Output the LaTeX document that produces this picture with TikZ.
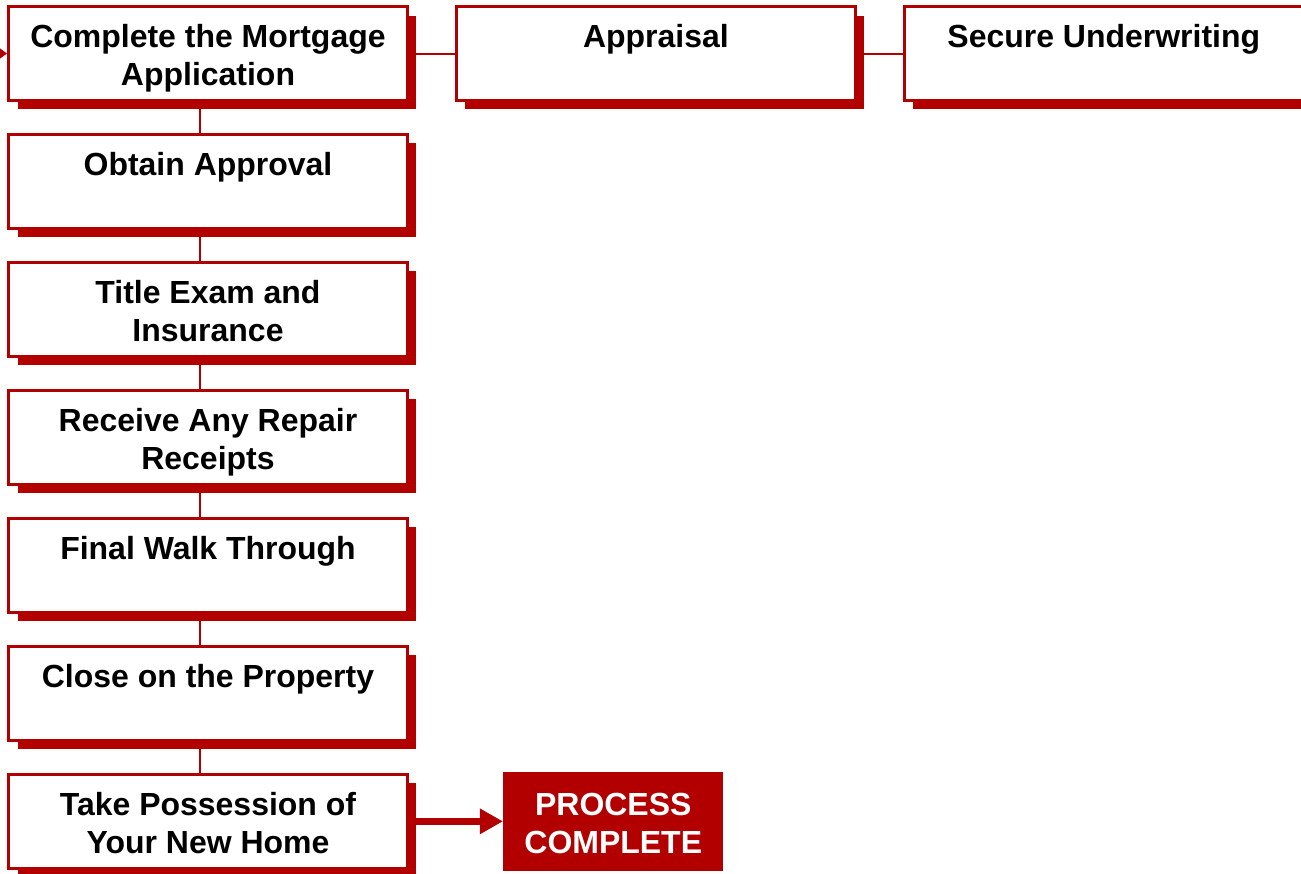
\documentclass[tikz,border=0pt]{standalone}
\usepackage{fontspec}
\setmainfont{Liberation Sans}
\usetikzlibrary{arrows.meta, positioning, shadows}
\definecolor{stepRed}{RGB}{178,0,0}
\tikzset{
    font=\bfseries\fontsize{18.2}{21.6}\selectfont,
    >=Stealth,
    % Boxes
    stepbox/.style={rectangle, draw=stepRed, line width=0.06cm, fill=white,
                    minimum width=7.98cm, minimum height=1.88cm, inner sep=0pt, align=center,
                    text height=1.27cm, text depth=0cm,
                    drop shadow={shadow xshift=0.18cm, shadow yshift=-0.18cm, fill=stepRed, opacity=1}},
    doneBox/.style={rectangle, fill=stepRed, text=white, inner sep=0pt,
                    minimum width=4.4cm, minimum height=1.98cm, align=center,
                    text height=1.27cm, text depth=0cm},
    % Connectors
    link/.style={stepRed, line width=0.04cm},
    bigArrow/.style={-{Triangle[length=0.46cm, width=0.48cm]}, stepRed, line width=0.14cm},
    inArrow/.style={-{Triangle[length=0.16cm, width=0.22cm]}, stepRed, line width=0.04cm}
}

\begin{document}
\begin{tikzpicture}[x=0.02cm, y=-0.02cm, node distance=0.62cm and 0.92cm]

\path[use as bounding box, clip] (0,0) rectangle (1301,873);

\node[stepbox] (apply) at (208,53.5) {Complete the Mortgage\\Application};
\node[stepbox, right=of apply] (appraise) {Appraisal\\\strut};
\node[stepbox, right=of appraise] (underwrite) {Secure Underwriting\\\strut};
\node[stepbox, below=of apply] (approve) {Obtain Approval\\\strut};
\node[stepbox, below=of approve] (title) {Title Exam and\\Insurance};
\node[stepbox, below=of title] (repair) {Receive Any Repair\\Receipts};
\node[stepbox, below=of repair] (walk) {Final Walk Through\\\strut};
\node[stepbox, below=of walk] (close) {Close on the Property\\\strut};
\node[stepbox, below=of close] (possess) {Take Possession of\\Your New Home};
\node[doneBox, right=1.88cm of possess] (done) {PROCESS\\COMPLETE};

\coordinate[left=0.6cm of apply] (start);

\draw[inArrow] (start) -- (apply.west);
\draw[link] (apply.east) -- (appraise.west);
\draw[link] (appraise.east) -- (underwrite.west);
\draw[link] ([xshift=-0.16cm]apply.south) -- ([xshift=-0.16cm]approve.north);
\draw[link] ([xshift=-0.16cm]approve.south) -- ([xshift=-0.16cm]title.north);
\draw[link] ([xshift=-0.16cm]title.south) -- ([xshift=-0.16cm]repair.north);
\draw[link] ([xshift=-0.16cm]repair.south) -- ([xshift=-0.16cm]walk.north);
\draw[link] ([xshift=-0.16cm]walk.south) -- ([xshift=-0.16cm]close.north);
\draw[link] ([xshift=-0.16cm]close.south) -- ([xshift=-0.16cm]possess.north);
\draw[bigArrow] (possess.east) -- (done.west);

\end{tikzpicture}
\end{document}
